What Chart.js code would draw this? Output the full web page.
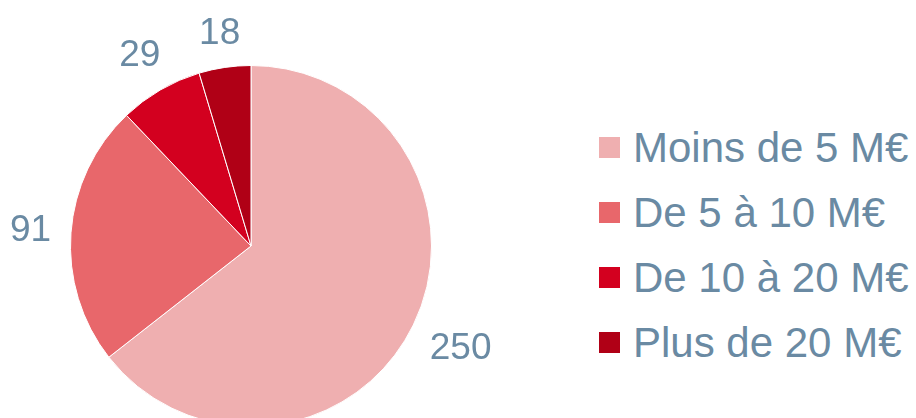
<!DOCTYPE html>
<html>
<head>
<meta charset="utf-8">
<script src="https://cdn.jsdelivr.net/npm/chart.js@4"></script>
<style>
  html, body { margin: 0; padding: 0; background: #fff; width: 916px; height: 418px; overflow: hidden; }
  #wrap { position: absolute; left: 0; top: 0; width: 502px; height: 492px; }
  #legend { position: absolute; left: 599px; top: 0; margin: 0; padding: 0; list-style: none;
            font-family: "Liberation Sans", Arial, sans-serif; font-size: 42px; color: #6a8aa3; white-space: nowrap; }
  #legend li { position: absolute; left: 0; height: 42px; line-height: 42px; }
  #legend .sw { position: absolute; left: 0; top: 10px; width: 21px; height: 21px; }
  #legend .tx { position: absolute; left: 34px; top: 0; }
</style>
</head>
<body>
<div id="wrap"><canvas id="pie"></canvas></div>
<ul id="legend"></ul>
<script>
(function () {
    'use strict';

    // Répartition par tranche de chiffre d'affaires
    const CATEGORIES = ['Moins de 5 M€', 'De 5 à 10 M€', 'De 10 à 20 M€', 'Plus de 20 M€'];
    const VALUES = [250, 91, 29, 18];
    const COLORS = ['#efafb0', '#e8676b', '#d3001f', '#b00016'];

    const TEXT_COLOR = '#6a8aa3';
    const FONT = '"Liberation Sans", Arial, sans-serif';

    // value labels outside each slice
    const outsideLabels = {
        id: 'outsideLabels',
        afterDatasetsDraw(chart) {
            const ctx = chart.ctx;
            const meta = chart.getDatasetMeta(0);
            ctx.save();
            ctx.font = '37px ' + FONT;
            ctx.fillStyle = TEXT_COLOR;
            ctx.textAlign = 'center';
            ctx.textBaseline = 'middle';
            meta.data.forEach((arc, i) => {
                const p = arc.getProps(['x', 'y', 'startAngle', 'endAngle', 'outerRadius'], true);
                const mid = (p.startAngle + p.endAngle) / 2;
                const txt = String(VALUES[i]);
                const w = ctx.measureText(txt).width;
                const h = 27;
                const c = Math.cos(mid), s = Math.sin(mid);
                const dist = p.outerRadius + 19 + Math.abs(c) * w / 2 + Math.abs(s) * h / 2;
                ctx.fillText(txt, p.x + c * dist, p.y + s * dist + 1);
            });
            ctx.restore();
        }
    };

    function buildLegend() {
        const ul = document.getElementById('legend');
        CATEGORIES.forEach((name, i) => {
            const li = document.createElement('li');
            li.style.top = (127 + i * 65) + 'px';
            li.innerHTML = '<span class="sw" style="background:' + COLORS[i] + '"></span>' +
                           '<span class="tx">' + name + '</span>';
            ul.appendChild(li);
        });
    }

    function buildChart() {
        const ctx = document.getElementById('pie').getContext('2d');
        new Chart(ctx, {
            type: 'pie',
            data: {
                labels: CATEGORIES,
                datasets: [{
                    data: VALUES,
                    backgroundColor: COLORS,
                    borderColor: '#ffffff',
                    borderWidth: 1
                }]
            },
            options: {
                responsive: true,
                maintainAspectRatio: false,
                animation: false,
                layout: { padding: { left: 70, right: 70, top: 65, bottom: 65 } },
                plugins: {
                    legend: { display: false },
                    tooltip: { enabled: false }
                }
            },
            plugins: [outsideLabels]
        });
    }

    buildChart();
    buildLegend();
})();
</script>
</body>
</html>
